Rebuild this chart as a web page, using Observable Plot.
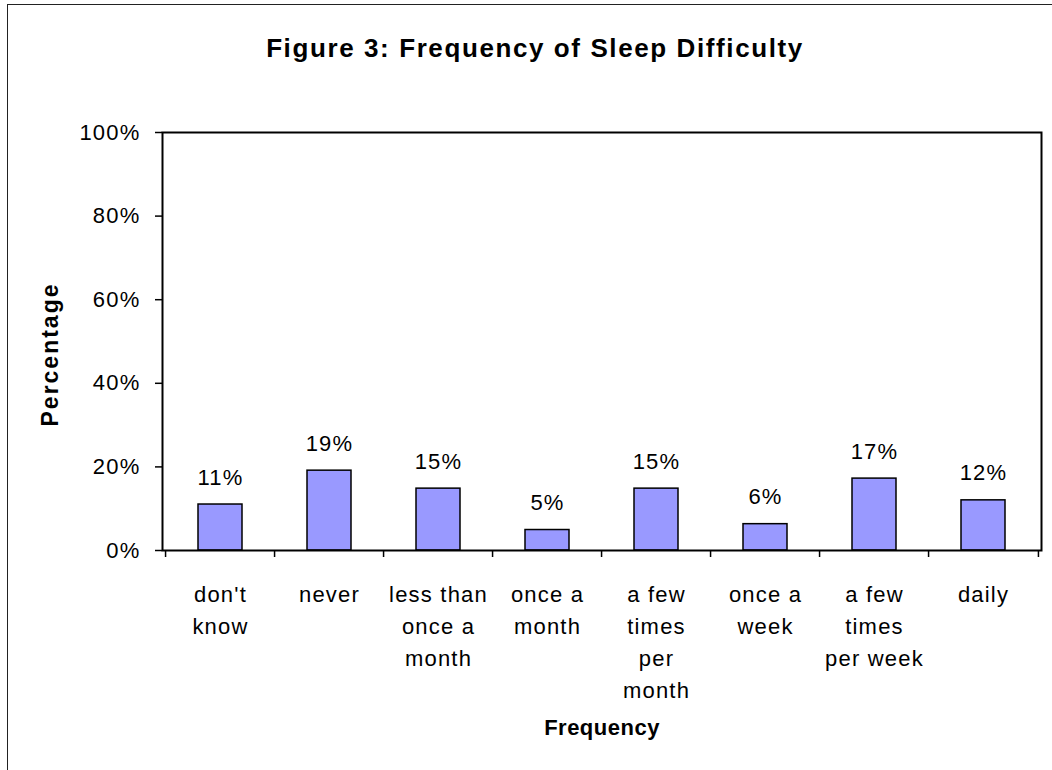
<!DOCTYPE html>
<html><head><meta charset="utf-8">
<script src="https://cdn.jsdelivr.net/npm/d3@7"></script>
<script src="https://cdn.jsdelivr.net/npm/@observablehq/plot@0.6"></script>
<style>
html,body{margin:0;padding:0;background:#fff;overflow:hidden}
#wrap{position:relative;width:1052px;height:770px;overflow:hidden;font-family:"Liberation Sans",Arial,sans-serif}
#border{position:absolute;left:7px;top:4px;width:1100px;height:800px;border-left:1.5px solid #222;border-top:1.5px solid #222;pointer-events:none}
#title{position:absolute;left:18px;width:1034px;top:35px;text-align:center;font-size:26px;line-height:26px;font-weight:bold;letter-spacing:1.6px;color:#000}
#chart{position:absolute;left:0;top:100px}
#chart svg text{letter-spacing:1.2px}
#chart g[aria-description="xlabel"] text{letter-spacing:0.5px}
#chart g[aria-description="ylabel"] text{letter-spacing:2px}
</style></head>
<body>
<div id="wrap">
<div id="border"></div>
<div id="title">Figure 3: Frequency of Sleep Difficulty</div>
<div id="chart"></div>
</div>
<script>
const categories = ["don't know", "never", "less than once a month", "once a month", "a few times per month", "once a week", "a few times per week", "daily"];
const tickLabels = ["don't\nknow", "never", "less than\nonce a\nmonth", "once a\nmonth", "a few\ntimes\nper\nmonth", "once a\nweek", "a few\ntimes\nper week", "daily"];
const values = [0.110, 0.191, 0.148, 0.049, 0.148, 0.063, 0.172, 0.120];
const yTicks = [0, 0.2, 0.4, 0.6, 0.8, 1];
const xTitle = "Frequency";
const yTitle = "Percentage";

const data = categories.map((c, i) => ({cat: c, value: values[i]}));
const fmt = d3.format(".0%");

const W = 1052, H = 670, ML = 162, MR = 11, MT = 32, MB = 220;
const step = (W - ML - MR) / categories.length;
const font = "'Liberation Sans', Arial, sans-serif";

const chart = Plot.plot({
  width: W,
  height: H,
  marginLeft: ML,
  marginRight: MR,
  marginTop: MT,
  marginBottom: MB,
  style: {fontFamily: font, color: "#000", background: "transparent", overflow: "visible"},
  x: {domain: categories, paddingInner: 0.6, paddingOuter: 0.3, align: 0.5, label: null},
  y: {domain: [0, 1], label: null},
  marks: [
    Plot.barY(data, {x: "cat", y: "value", fill: "#9999ff", stroke: "#000", strokeWidth: 1.5}),
    Plot.frame({stroke: "#000", strokeWidth: 2}),
    Plot.axisY({ticks: yTicks, tickFormat: fmt, tickSize: 7, tickPadding: 15, fontSize: 22, strokeWidth: 1.5, label: null}),
    Plot.axisX({tickSize: 0, tickPadding: 29, fontSize: 22, lineHeight: 1.45, label: null,
      tickFormat: d => tickLabels[categories.indexOf(d)]}),
    Plot.ruleX(categories, {x: d => d, y1: 0, y2: 0, insetBottom: -7, dx: -step / 2, strokeWidth: 1.5}),
    Plot.ruleX(categories.slice(-1), {x: d => d, y1: 0, y2: 0, insetBottom: -7, dx: step / 2, strokeWidth: 1.5}),
    Plot.text(data, {x: "cat", y: "value", text: d => fmt(d.value), dy: -20, lineAnchor: "bottom", fontSize: 22}),
    Plot.text([xTitle], {text: d => d, frameAnchor: "bottom", dy: 184, lineAnchor: "bottom", fontSize: 22, fontWeight: "bold", ariaDescription: "xlabel"}),
    Plot.text([yTitle], {text: d => d, frameAnchor: "left", textAnchor: "middle", rotate: -90, dx: -105, dy: 13, lineAnchor: "bottom", fontSize: 23, fontWeight: "bold", ariaDescription: "ylabel"})
  ]
});
document.getElementById("chart").appendChild(chart);
</script>
</body></html>
